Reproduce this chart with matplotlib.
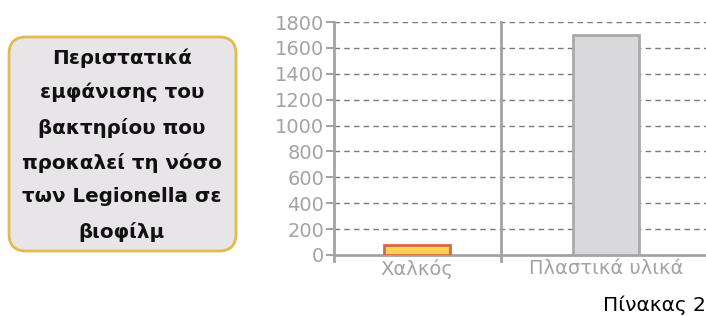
import matplotlib.pyplot as plt
from matplotlib.patches import FancyBboxPatch

# data
categories = ['Χαλκός', 'Πλαστικά υλικά']
values = [75, 1700]
bar_colors = ['#fdd052', '#d9d9db']
edge_colors = ['#d2694a', '#a9a9a9']
yticks = list(range(0, 1801, 200))
box_text = ('Περιστατικά\nεμφάνισης του\nβακτηρίου που\n'
            'προκαλεί τη νόσο\nτων Legionella σε\nβιοφίλμ')
caption = 'Πίνακας 2'

W, H = 706, 316
fig = plt.figure(figsize=(W / 100, H / 100), dpi=100)

# left text box (inches)
fig.patches.append(FancyBboxPatch((0.09, (H - 251) / 100), 2.27, 2.14,
                                  boxstyle='round,pad=0,rounding_size=0.17',
                                  transform=fig.dpi_scale_trans,
                                  facecolor='#e8e5e8', edgecolor='#e6b94c', lw=2))
fig.text(122 / W, 1 - 145 / H, box_text, ha='center', va='center',
         fontsize=14.3, fontweight='bold', linespacing=1.96, color='#111111')

ax = fig.add_axes([334 / W, 1 - 255 / H, (W - 334) / W, 233 / H])
x = list(range(len(categories)))
ax.bar(x, values, width=0.35, color=bar_colors, edgecolor=edge_colors,
       linewidth=2, zorder=3)

ax.set_xlim(-0.44, 1.53)
ax.set_ylim(0, 1800)
ax.set_yticks(yticks)
ax.set_xticks(x)
ax.set_xticklabels(categories)

grey = '#a3a3a3'
ax.tick_params(axis='y', colors=grey, labelcolor=grey, labelsize=14, length=6,
               width=1.5, pad=1)
ax.tick_params(axis='x', length=0, labelcolor=grey, labelsize=14, pad=3)

for y in yticks[1:]:
    ax.axhline(y, color='#7f7777', lw=1, ls=(0, (4, 3)), zorder=1)

for s in ['top', 'right']:
    ax.spines[s].set_visible(False)
for s in ['left', 'bottom']:
    ax.spines[s].set_color(grey)
    ax.spines[s].set_linewidth(2)

# divider between categories and small ticks under axis
ax.plot([0.443, 0.443], [-50, 1800], color=grey, lw=2, clip_on=False, zorder=2)
ax.plot([-0.44, -0.44], [-50, 0], color=grey, lw=2, clip_on=False, zorder=2)

fig.text(603 / W, 1 - 305 / H, caption, ha='left', va='center', fontsize=14.5,
         color='black')

fig.savefig('out.png', dpi=100)
